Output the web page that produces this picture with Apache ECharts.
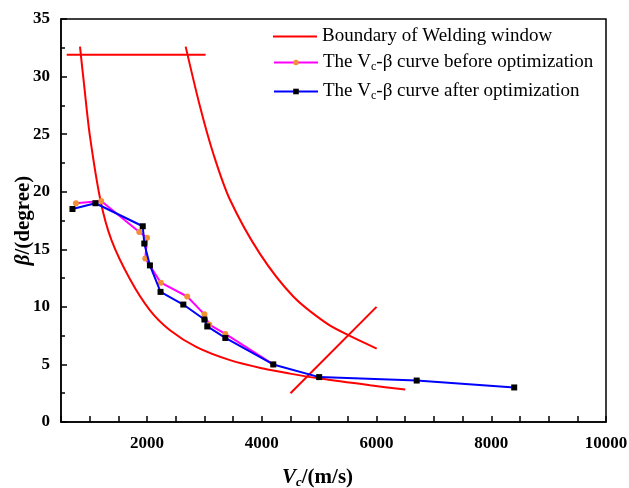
<!DOCTYPE html>
<html><head><meta charset="utf-8">
<script src="https://cdn.jsdelivr.net/npm/echarts@6/dist/echarts.min.js"></script>
<style>html,body{margin:0;padding:0;background:#fff}#c{width:629px;height:488px}</style>
</head><body><div id="c"></div>
<script>
// Boundary of welding window (red)
const boundaryLeft = [[831,32.6],[900,29.4],[1005,24.8],[1190,19.2],[1380,15.8],[1703,12.4],[2051,9.7],[2400,7.97],[2865,6.5],[3446,5.37],[4026,4.64],[4491,4.2],[5014,3.77],[5886,3.19],[6500,2.82]];
const boundaryRight = [[2673,32.6],[2923,27.4],[3155,23.3],[3446,19.3],[3969,14.6],[4549,10.9],[5131,8.56],[5508,7.54],[6003,6.38]];
const boundaryTop = [[600,31.9],[3020,31.9]];
const boundaryCross = [[4500,2.5],[6000,10.0]];
// V_c - beta curves
const beforeOpt = [[760,19.0],[1200,19.2],[1865,16.5],[2000,16.0],[1970,14.2],[2240,12.1],[2700,10.9],[3000,9.35],[3085,8.45],[3365,7.65],[4200,5.0]];
const afterOpt = [[700,18.5],[1100,19.0],[1925,17.0],[1952,15.5],[2050,13.6],[2235,11.3],[2632,10.2],[3000,8.9],[3050,8.3],[3365,7.3],[4200,5.0],[5000,3.9],[6700,3.6],[8400,3.0]];
const xTickLabels = [2000,4000,6000,8000,10000];
const yTickLabels = [0,5,10,15,20,25,30,35];

const FONT = '"Liberation Serif","Times New Roman",serif';
const names = ['Boundary of Welding window','The Vc-β curve before optimization','The Vc-β curve after optimization'];
const legendRich = {
  n:{fontFamily:FONT,fontSize:19,color:'#000'},
  s:{fontFamily:FONT,fontSize:12,color:'#000',padding:[9,0,0,0]}
};
function legendFmt(name){
  if(name===names[0]) return '{n|'+name+'}';
  if(name===names[1]) return '{n|The V}{s|c}{n|-β curve before optimization}';
  return '{n|The V}{s|c}{n|-β curve after optimization}';
}
function mkLegend(item, top, h){
  return {data:[item], left:273, top:top, itemWidth:44, itemHeight:h, itemGap:0, padding:0,
    formatter:legendFmt, textStyle:{rich:legendRich}, selectedMode:false};
}
const redStyle = {type:'line', name:names[0], showSymbol:false, symbol:'none', smooth:0.3,
  lineStyle:{color:'#ff0000',width:2}, itemStyle:{color:'#ff0000'}, z:2};

const chart = echarts.init(document.getElementById('c'));
chart.setOption({
  animation:false,
  grid:{left:61,right:23,top:19,bottom:66,containLabel:false,outerBoundsMode:'none',show:true,borderColor:'#000',borderWidth:1.5,backgroundColor:'transparent'},
  legend:[
    mkLegend({name:names[0],icon:'rect',itemStyle:{color:'#ff0000'}},27,2),
    mkLegend(names[1],53,7), mkLegend(names[2],82,7)],
  xAxis:{type:'value',min:500,max:10000,interval:500,
    name:'{i|V}{si|c}{b|/(m/s)}', nameLocation:'middle', nameGap:44,
    nameTextStyle:{padding:[0,32,0,0],rich:{
      i:{fontFamily:FONT,fontSize:21,fontWeight:'bold',fontStyle:'italic',color:'#000'},
      si:{fontFamily:FONT,fontSize:13,fontWeight:'bold',fontStyle:'italic',color:'#000',padding:[10,0,0,0]},
      b:{fontFamily:FONT,fontSize:21,fontWeight:'bold',color:'#000'}}},
    axisLine:{lineStyle:{color:'#000',width:1.5}},
    axisTick:{inside:true,length:6,lineStyle:{color:'#000',width:1.5}},
    axisLabel:{fontFamily:FONT,fontSize:17,fontWeight:'bold',color:'#000',margin:13,
      formatter:v=>xTickLabels.indexOf(v)>=0?String(v):''},
    splitLine:{show:false}},
  yAxis:{type:'value',min:0,max:35,interval:5,
    name:'{i|β}{b|/(degree)}', nameLocation:'middle', nameGap:27, nameMoveOverlap:false,
    nameTextStyle:{rich:{
      i:{fontFamily:FONT,fontSize:21,fontWeight:'bold',fontStyle:'italic',color:'#000'},
      b:{fontFamily:FONT,fontSize:21,fontWeight:'bold',color:'#000'}}},
    axisLine:{lineStyle:{color:'#000',width:1.5}},
    axisTick:{inside:true,length:6,lineStyle:{color:'#000',width:1.5}},
    minorTick:{show:true,splitNumber:2,length:4,lineStyle:{color:'#000',width:1.5}},
    axisLabel:{fontFamily:FONT,fontSize:17,fontWeight:'bold',color:'#000',margin:11,
      formatter:v=>yTickLabels.indexOf(v)>=0?String(v):''},
    splitLine:{show:false}},
  series:[
    Object.assign({},redStyle,{data:boundaryLeft}),
    Object.assign({},redStyle,{data:boundaryRight}),
    Object.assign({},redStyle,{data:boundaryTop,smooth:false}),
    Object.assign({},redStyle,{data:boundaryCross,smooth:false}),
    {type:'line',name:names[1],data:beforeOpt,symbol:'circle',symbolSize:6,
      lineStyle:{color:'#ff00ff',width:2},itemStyle:{color:'#f39035'},z:3},
    {type:'line',name:names[2],data:afterOpt,symbol:'rect',symbolSize:6,
      lineStyle:{color:'#0000ff',width:2},itemStyle:{color:'#000000'},z:4}
  ]
});
</script></body></html>
